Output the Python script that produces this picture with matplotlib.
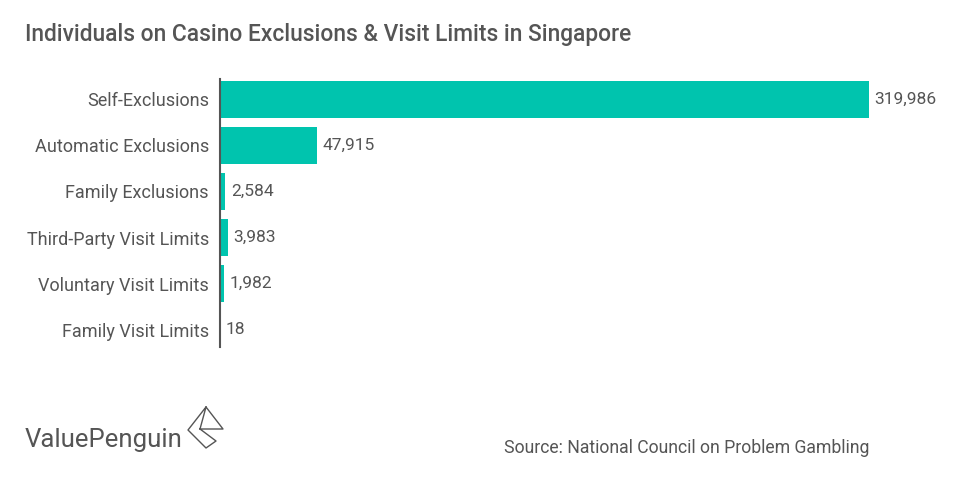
import matplotlib.pyplot as plt

categories = ["Self-Exclusions", "Automatic Exclusions", "Family Exclusions",
              "Third-Party Visit Limits", "Voluntary Visit Limits", "Family Visit Limits"]
values = [319986, 47915, 2584, 3983, 1982, 18]
value_labels = ["319,986", "47,915", "2,584", "3,983", "1,982", "18"]

plt.rcParams['font.family'] = ['Roboto', 'DejaVu Sans']
text_color = '#555555'

fig = plt.figure(figsize=(9.6, 4.83), dpi=100)
ax = fig.add_axes([220 / 960, 1 - 353 / 483, (869 - 220) / 960, 277 / 483])

ypos = list(range(len(categories)))
ax.barh(ypos, values, height=0.8, color='#00C4AE')
ax.set_xlim(0, 319986)
ax.set_ylim(5.5, -0.5)
ax.set_yticks(ypos)
ax.set_yticklabels(categories, fontsize=13, color=text_color)
ax.tick_params(axis='y', length=0, pad=8)
ax.set_xticks([])
for s in ['top', 'right', 'bottom']:
    ax.spines[s].set_visible(False)
ax.spines['left'].set_color('#555555')
ax.spines['left'].set_linewidth(1.5)
ax.spines['left'].set_bounds(-0.43, 5.37)

for y, v, lab in zip(ypos, values, value_labels):
    ax.annotate(lab, (v, y), xytext=(4, 0), textcoords='offset points',
                va='center', ha='left', fontsize=12.5, color=text_color)

fig.text(25 / 960, 1 - 34 / 483, "Individuals on Casino Exclusions & Visit Limits in Singapore",
         fontsize=16.4, color='#555555', va='center', ha='left', fontweight='medium')

# logo
fig.text(25 / 960, 1 - 440 / 483, "ValuePenguin", fontsize=18.5, color='#555555',
         va='center', ha='left')


def seg(xs, ys):
    fig.add_artist(plt.Line2D([x / 960 for x in xs], [1 - y / 483 for y in ys],
                              color='#555555', lw=1))


seg([206, 188, 206, 216, 200, 206, 223, 200], [407, 430, 448, 441, 429, 407, 429, 429])

fig.text(869 / 960, 1 - 448 / 483, "Source: National Council on Problem Gambling",
         fontsize=12.7, color='#555555', va='center', ha='right')

fig.savefig("out.png", dpi=100)
